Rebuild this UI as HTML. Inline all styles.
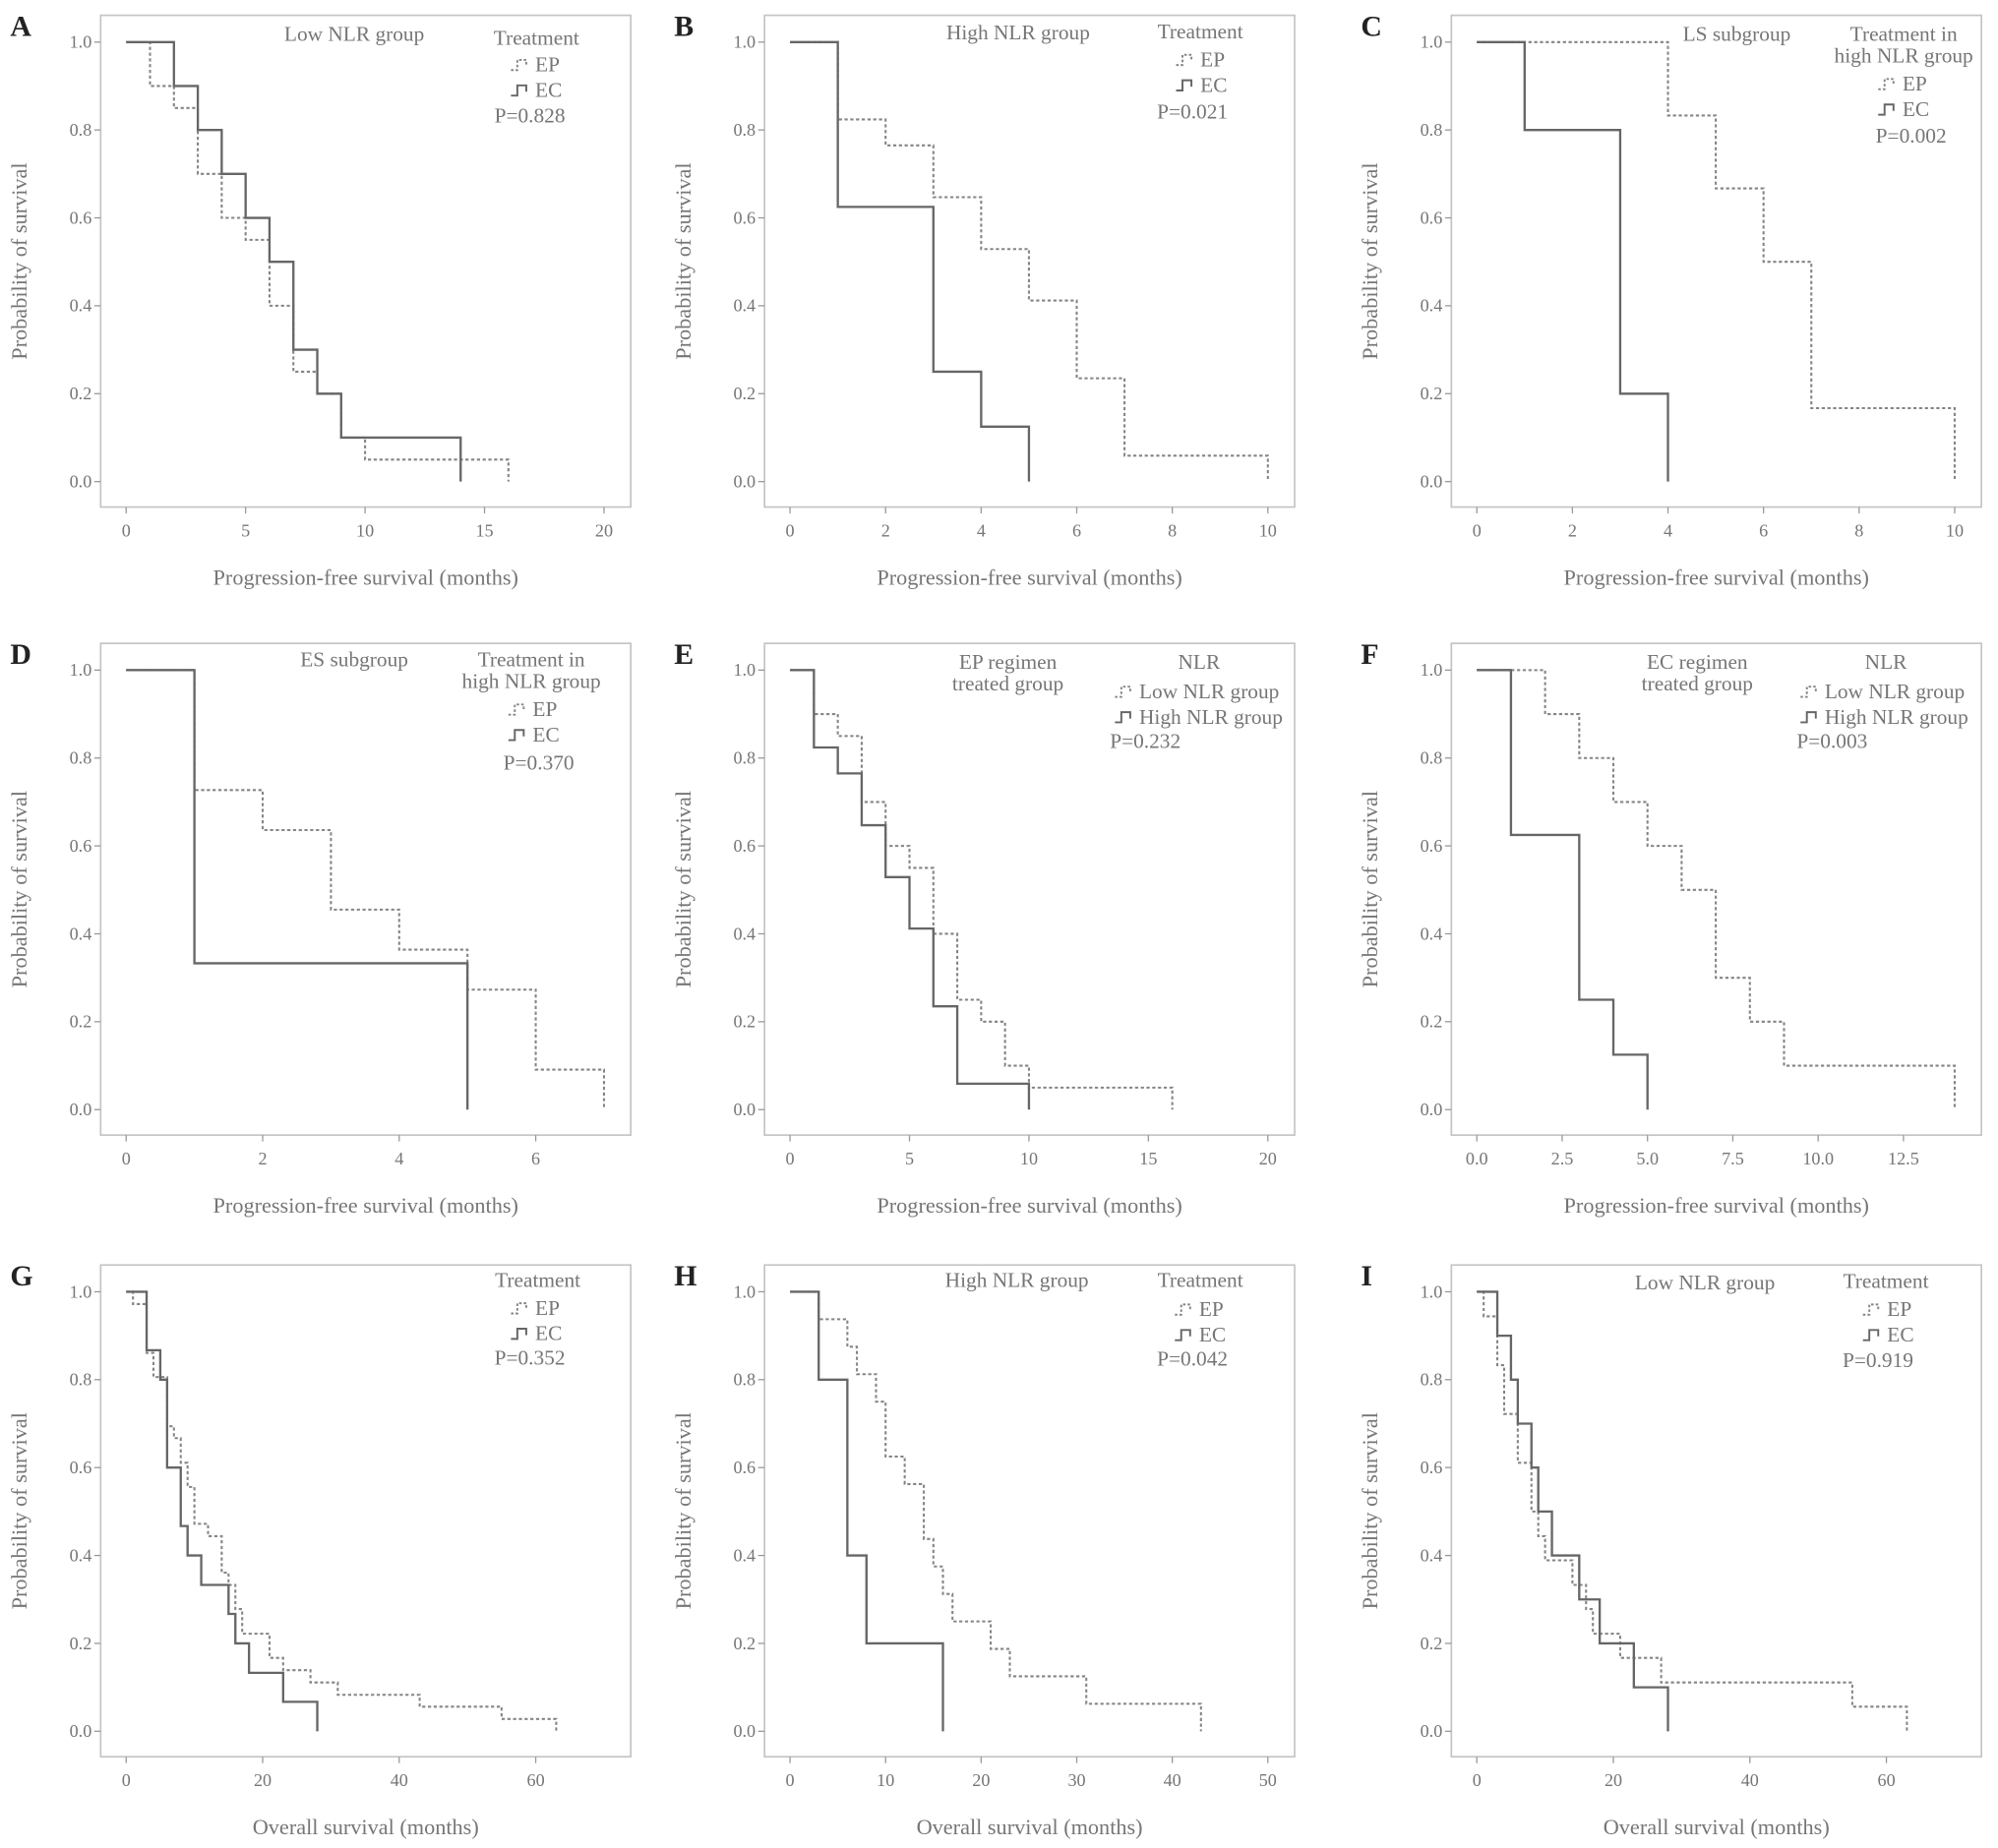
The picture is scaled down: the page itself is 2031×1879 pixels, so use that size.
<!DOCTYPE html>
<html><head><meta charset="utf-8"><style>
html,body{margin:0;padding:0;background:#fff;}
svg{display:block;}
text{font-family:"Liberation Serif",serif;fill:#767676;}
</style></head><body>
<svg id="fig" width="2031" height="1879" viewBox="0 0 1568 1450.6" xmlns="http://www.w3.org/2000/svg"></svg>
<script>
// ---- data (time in months, survival probability after the drop) ----
const aEpT=[1,2,3,4,5,6,7,8,9,10,16], aEpS=[0.9,0.85,0.7,0.6,0.55,0.4,0.25,0.2,0.1,0.05,0];
const aEcT=[2,3,4,5,6,7,8,9,14], aEcS=[0.9,0.8,0.7,0.6,0.5,0.3,0.2,0.1,0];
const bEpT=[1,2,3,4,5,6,7,10], bEpS=[0.824,0.765,0.647,0.529,0.412,0.235,0.059,0];
const bEcT=[1,3,4,5], bEcS=[0.625,0.25,0.125,0];
const cEpT=[4,5,6,7,10], cEpS=[0.833,0.667,0.5,0.167,0];
const cEcT=[1,3,4], cEcS=[0.8,0.2,0];
const dEpT=[1,2,3,4,5,6,7], dEpS=[0.727,0.636,0.455,0.364,0.273,0.091,0];
const dEcT=[1,5], dEcS=[0.333,0];
const eLowT=[1,2,3,4,5,6,7,8,9,10,16], eLowS=[0.9,0.85,0.7,0.6,0.55,0.4,0.25,0.2,0.1,0.05,0];
const eHighT=[1,2,3,4,5,6,7,10], eHighS=[0.824,0.765,0.647,0.529,0.412,0.235,0.059,0];
const fLowT=[2,3,4,5,6,7,8,9,14], fLowS=[0.9,0.8,0.7,0.6,0.5,0.3,0.2,0.1,0];
const fHighT=[1,3,4,5], fHighS=[0.625,0.25,0.125,0];
const gEpT=[1,3,4,6,7,8,9,10,12,14,15,16,17,21,23,27,31,43,55,63];
const gEpS=[0.972,0.861,0.806,0.694,0.667,0.611,0.556,0.472,0.444,0.361,0.333,0.278,0.222,0.167,0.139,0.111,0.083,0.056,0.028,0];
const gEcT=[3,5,6,8,9,11,15,16,18,23,28], gEcS=[0.867,0.8,0.6,0.467,0.4,0.333,0.267,0.2,0.133,0.067,0];
const hEpT=[3,6,7,9,10,12,14,15,16,17,21,23,31,43];
const hEpS=[0.9375,0.875,0.8125,0.75,0.625,0.5625,0.4375,0.375,0.3125,0.25,0.1875,0.125,0.0625,0];
const hEcT=[3,6,8,16], hEcS=[0.8,0.4,0.2,0];
const iEpT=[1,3,4,6,8,9,10,14,16,17,21,27,55,63];
const iEpS=[0.944,0.833,0.722,0.611,0.5,0.444,0.389,0.333,0.278,0.222,0.167,0.111,0.056,0];
const iEcT=[3,5,6,8,9,11,15,18,23,28], iEcS=[0.9,0.8,0.7,0.6,0.5,0.4,0.3,0.2,0.1,0];
const yTicks=[0,0.2,0.4,0.6,0.8,1.0];
const ticksPFS20=[0,5,10,15,20], ticks10=[0,2,4,6,8,10], ticks7=[0,2,4,6];
const ticksF=[0,2.5,5,7.5,10,12.5], ticksOS=[0,20,40,60], ticksH=[0,10,20,30,40,50];

const NS="http://www.w3.org/2000/svg";
const svg=document.getElementById('fig');
function mk(tag,attrs,parent){const e=document.createElementNS(NS,tag);for(const k in attrs)e.setAttribute(k,attrs[k]);(parent||svg).appendChild(e);return e;}
function txt(s,x,y,size,anchor,parent,extra){const t=mk('text',Object.assign({x:x,y:y,'font-size':size,'text-anchor':anchor||'start'},extra||{}),parent);t.textContent=s;return t;}

const panels=[
 {id:'a',L:'A',col:0,row:0,xmax:20,ticks:ticksPFS20,dec:0,xl:'Progression-free survival (months)',
  s1:[aEpT,aEpS],s2:[aEcT,aEcS],title:[['Low NLR group',278,32]],head:[['Treatment',421,35]],
  ent:[['EP',420,56],['EC',420,76]],p:['P=0.828',388,96]},
 {id:'b',L:'B',col:1,row:0,xmax:10,ticks:ticks10,dec:0,xl:'Progression-free survival (months)',
  s1:[bEpT,bEpS],s2:[bEcT,bEcS],title:[['High NLR group',799,31]],head:[['Treatment',942,30]],
  ent:[['EP',942,52],['EC',942,72]],p:['P=0.021',908,93]},
 {id:'c',L:'C',col:2,row:0,xmax:10,ticks:ticks10,dec:0,xl:'Progression-free survival (months)',
  s1:[cEpT,cEpS],s2:[cEcT,cEcS],title:[['LS subgroup',1363,32]],head:[['Treatment in',1494,32],['high NLR group',1494,49]],
  ent:[['EP',1493,71],['EC',1493,91]],p:['P=0.002',1472,112]},
 {id:'d',L:'D',col:0,row:1,xmax:7,ticks:ticks7,dec:0,xl:'Progression-free survival (months)',
  s1:[dEpT,dEpS],s2:[dEcT,dEcS],title:[['ES subgroup',278,523]],head:[['Treatment in',417,523],['high NLR group',417,540]],
  ent:[['EP',418,562],['EC',418,582]],p:['P=0.370',395,604]},
 {id:'e',L:'E',col:1,row:1,xmax:20,ticks:ticksPFS20,dec:0,xl:'Progression-free survival (months)',
  s1:[eLowT,eLowS],s2:[eHighT,eHighS],title:[['EP regimen',791,525],['treated group',791,542]],head:[['NLR',941,525]],
  ent:[['Low NLR group',894,548],['High NLR group',894,568]],p:['P=0.232',871,587]},
 {id:'f',L:'F',col:2,row:1,xmax:14,ticks:ticksF,dec:1,xl:'Progression-free survival (months)',
  s1:[fLowT,fLowS],s2:[fHighT,fHighS],title:[['EC regimen',1332,525],['treated group',1332,542]],head:[['NLR',1480,525]],
  ent:[['Low NLR group',1432,548],['High NLR group',1432,568]],p:['P=0.003',1410,587]},
 {id:'g',L:'G',col:0,row:2,xmax:70,ticks:ticksOS,dec:0,xl:'Overall survival (months)',
  s1:[gEpT,gEpS],s2:[gEcT,gEcS],title:[],head:[['Treatment',422,1010]],
  ent:[['EP',420,1032],['EC',420,1052]],p:['P=0.352',388,1071]},
 {id:'h',L:'H',col:1,row:2,xmax:50,ticks:ticksH,dec:0,xl:'Overall survival (months)',
  s1:[hEpT,hEpS],s2:[hEcT,hEcS],title:[['High NLR group',798,1010]],head:[['Treatment',942,1010]],
  ent:[['EP',941,1033],['EC',941,1053]],p:['P=0.042',908,1072]},
 {id:'i',L:'I',col:2,row:2,xmax:70,ticks:ticksOS,dec:0,xl:'Overall survival (months)',
  s1:[iEpT,iEpS],s2:[iEcT,iEcS],title:[['Low NLR group',1338,1012]],head:[['Treatment',1480,1011]],
  ent:[['EP',1481,1033],['EC',1481,1053]],p:['P=0.919',1446,1073]}
];
const colL=[79,600,1139], rowT=[12,505,993], W=416, H=386;
const FS=16.5, XFS=17.2, TFS=14;

panels.forEach(P=>{
  const L=colL[P.col], T=rowT[P.row];
  const g=mk('g',{});
  
  
  const xs=v=>L+20+v/P.xmax*375;
  const ys=v=>T+366-v*345;
  const fr=mk('rect',{x:L,y:T,width:W,height:H,fill:'none',stroke:'#c4c4c4','stroke-width':1.3},g);
  
  
  const lt=txt(P.L,L-71,T+16,23,'start',g,{'font-weight':'bold',style:'fill:#222'});
  
  
  yTicks.forEach(v=>{
    mk('line',{x1:L-5,x2:L,y1:ys(v),y2:ys(v),stroke:'#999','stroke-width':1},g);
    const t=txt(v.toFixed(1),L-7,ys(v)+4.5,TFS,'end',g);
    
    
  });
  P.ticks.forEach(v=>{
    mk('line',{x1:xs(v),x2:xs(v),y1:T+H,y2:T+H+5,stroke:'#999','stroke-width':1},g);
    const t=txt(v.toFixed(P.dec),xs(v),T+H+23,TFS,'middle',g);
    
    
  });
  const xl=txt(P.xl,L+208,T+447,XFS,'middle',g);
  
  
  const yl=txt('Probability of survival',0,0,XFS,'middle',g,{transform:'translate('+(L-58)+','+(T+193)+') rotate(-90)'});
  
  
  function curve(ts,ss,dashed,name){
    let d='M'+xs(0)+','+ys(1);
    for(let k=0;k<ts.length;k++){d+=' H'+xs(ts[k])+' V'+ys(ss[k]);}
    const p=mk('path',{d:d,fill:'none',stroke:dashed?'#858585':'#666','stroke-width':dashed?1.6:1.8,'stroke-dasharray':dashed?'2.5,2':'none'},g);
    
    
  }
  curve(P.s1[0],P.s1[1],true,'dashed-survival-curve');
  curve(P.s2[0],P.s2[1],false,'solid-survival-curve');
  P.title.forEach(a=>{const t=txt(a[0],a[1],a[2],FS,'middle',g);
    
    });
  P.head.forEach(a=>{const t=txt(a[0],a[1],a[2],FS,'middle',g);
    
    });
  P.ent.forEach((a,k)=>{
    const x=a[1]-19, y=a[2]-5;
    const ic=mk('path',{d:'M'+x+','+(y+4)+' h5 v-8 h7 v5',fill:'none',stroke:k?'#666':'#858585','stroke-width':1.5,'stroke-dasharray':k?'none':'2,1.6'},g);
    
    
    const t=txt(a[0],a[1],a[2],FS,'start',g);
    
    
  });
  const pv=txt(P.p[0],P.p[1],P.p[2],FS,'start',g);
  
  
});
</script>
</body></html>
